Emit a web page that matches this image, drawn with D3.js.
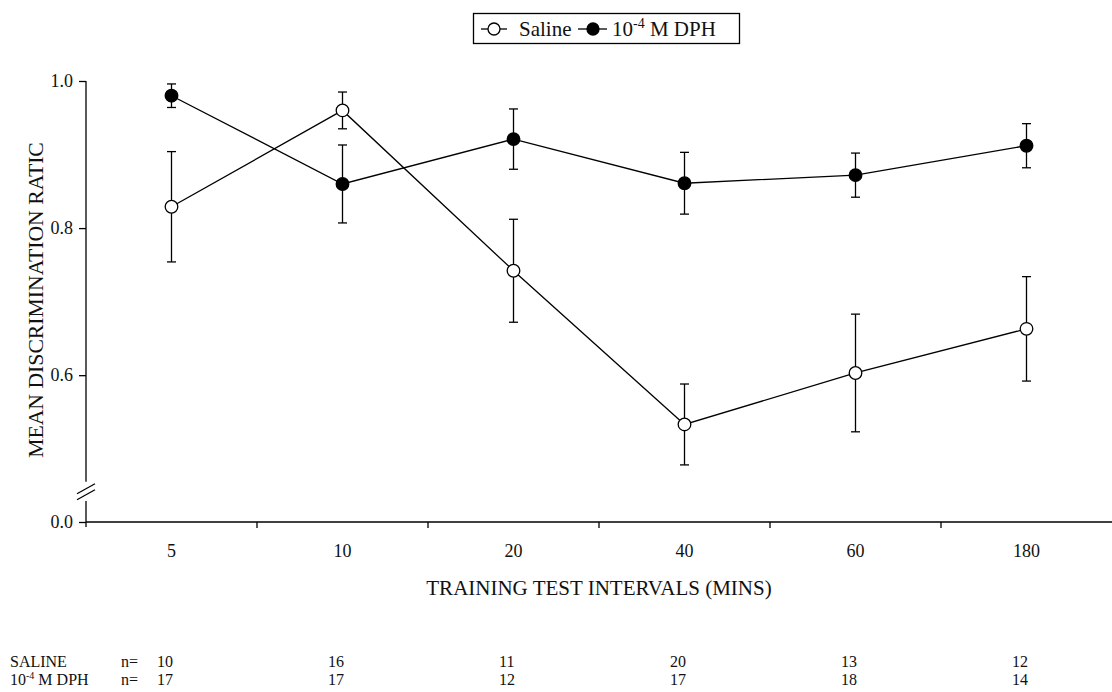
<!DOCTYPE html>
<html>
<head>
<meta charset="utf-8">
<script src="https://cdn.jsdelivr.net/npm/d3@7"></script>
<style>
  html, body { margin: 0; padding: 0; background: #fff; }
  svg { display: block; font-family: "Liberation Serif", "Times New Roman", serif; }
</style>
</head>
<body>
<svg id="chart" width="1112" height="692"></svg>
<script>
// ---- data ----
const intervals = ["5", "10", "20", "40", "60", "180"];
const salineMean = [0.829, 0.960, 0.742, 0.533, 0.603, 0.663];
const salineErr  = [0.075, 0.025, 0.070, 0.055, 0.080, 0.071];
const dphMean    = [0.980, 0.860, 0.921, 0.861, 0.872, 0.912];
const dphErr     = [0.016, 0.053, 0.041, 0.042, 0.030, 0.030];
const salineN    = [10, 16, 11, 20, 13, 12];
const dphN       = [17, 17, 12, 17, 18, 14];
const yTickValues = [0.0, 0.6, 0.8, 1.0];

(function () {
// ---- layout ----
const svg = d3.select("#chart");
const pLeft = 86, pRight = 1112, pTop = 81, pBottom = 522;

const x = d3.scaleBand().domain(intervals).range([pLeft, pRight]).padding(0);
// broken y axis: 0..0.45 compressed into a short stub below the break
const y = d3.scaleLinear().domain([0, 0.45, 1.0]).range([pBottom, 485.5, pTop]);

const cx = d => x(d) + x.bandwidth() / 2;

// ---- y axis ----
const yAxis = d3.axisLeft(y).tickValues(yTickValues).tickSize(7).tickPadding(6)
  .tickFormat(d3.format(".1f"));
const gy = svg.append("g").attr("transform", `translate(${pLeft},0)`).call(yAxis);
gy.select(".domain").remove();
gy.selectAll(".tick line").attr("stroke", "#000").attr("stroke-width", 1.3);
gy.selectAll(".tick text").attr("font-size", 18).attr("fill", "#111")
  .attr("font-family", "Liberation Serif");

const axisG = svg.append("g").attr("stroke", "#000").attr("stroke-width", 1.3).attr("fill", "none");
axisG.append("line").attr("x1", pLeft).attr("x2", pLeft).attr("y1", y(1.0)).attr("y2", y(0.455));
axisG.append("line").attr("x1", pLeft).attr("x2", pLeft).attr("y1", y(0.26)).attr("y2", pBottom + 5);
// break marks
const bMid = y(0.36);
axisG.append("line").attr("x1", pLeft - 9).attr("y1", bMid + 1).attr("x2", pLeft + 9).attr("y2", bMid - 9);
axisG.append("line").attr("x1", pLeft - 9).attr("y1", bMid + 7).attr("x2", pLeft + 9).attr("y2", bMid - 3);

// ---- x axis ----
axisG.append("line").attr("x1", pLeft).attr("x2", pRight).attr("y1", pBottom).attr("y2", pBottom);
const bounds = intervals.slice(1).map(d => x(d));
axisG.selectAll("line.xt").data(bounds).enter().append("line").attr("class", "xt")
  .attr("x1", d => d).attr("x2", d => d).attr("y1", pBottom).attr("y2", pBottom + 6);

svg.append("g").selectAll("text").data(intervals).enter().append("text")
  .attr("x", d => cx(d)).attr("y", 557).attr("text-anchor", "middle")
  .attr("font-size", 18).attr("fill", "#111").text(d => d);

// ---- axis titles ----
svg.append("text").attr("x", (pLeft + pRight) / 2).attr("y", 595).attr("text-anchor", "middle")
  .attr("font-size", 21).attr("fill", "#111").text("TRAINING TEST INTERVALS (MINS)");
svg.append("text").attr("transform", "translate(43,300) rotate(-90)").attr("text-anchor", "middle")
  .attr("font-size", 21.7).attr("fill", "#111").text("MEAN DISCRIMINATION RATIC");

// ---- series ----
const series = [
  { name: "saline", mean: salineMean, err: salineErr, fill: "#fff" },
  { name: "dph", mean: dphMean, err: dphErr, fill: "#000" }
];
const line = d3.line().x(d => cx(d.k)).y(d => y(d.v));
series.forEach(s => {
  const pts = intervals.map((k, i) => ({ k, v: s.mean[i], e: s.err[i] }));
  svg.append("path").datum(pts).attr("d", line).attr("fill", "none")
    .attr("stroke", "#000").attr("stroke-width", 1.3);
  const eg = svg.append("g").attr("stroke", "#000").attr("stroke-width", 1.3);
  pts.forEach(p => {
    const xx = cx(p.k);
    eg.append("line").attr("x1", xx).attr("x2", xx).attr("y1", y(p.v + p.e)).attr("y2", y(p.v - p.e));
    eg.append("line").attr("x1", xx - 4.5).attr("x2", xx + 4.5).attr("y1", y(p.v + p.e)).attr("y2", y(p.v + p.e));
    eg.append("line").attr("x1", xx - 4.5).attr("x2", xx + 4.5).attr("y1", y(p.v - p.e)).attr("y2", y(p.v - p.e));
  });
});
series.forEach(s => {
  svg.append("g").selectAll("circle").data(intervals).enter().append("circle")
    .attr("cx", d => cx(d)).attr("cy", (d, i) => y(s.mean[i])).attr("r", 6.3)
    .attr("fill", s.fill).attr("stroke", "#000").attr("stroke-width", 1.3);
});

// ---- legend ----
const lg = svg.append("g");
lg.append("rect").attr("x", 473.5).attr("y", 13.5).attr("width", 266).attr("height", 30)
  .attr("fill", "#fff").attr("stroke", "#000").attr("stroke-width", 1.3);
const ly = 29;
lg.append("line").attr("x1", 481).attr("x2", 507).attr("y1", ly).attr("y2", ly).attr("stroke", "#000").attr("stroke-width", 1.3);
lg.append("circle").attr("cx", 494).attr("cy", ly).attr("r", 6).attr("fill", "#fff").attr("stroke", "#000").attr("stroke-width", 1.3);
lg.append("text").attr("x", 519).attr("y", 36).attr("font-size", 21).attr("fill", "#111").text("Saline");
lg.append("line").attr("x1", 578).attr("x2", 607).attr("y1", ly).attr("y2", ly).attr("stroke", "#000").attr("stroke-width", 1.3);
lg.append("circle").attr("cx", 593).attr("cy", ly).attr("r", 6).attr("fill", "#000").attr("stroke", "#000").attr("stroke-width", 1.3);
const lt = lg.append("text").attr("x", 612).attr("y", 36).attr("font-size", 21).attr("fill", "#111");
lt.append("tspan").text("10");
lt.append("tspan").attr("dy", -8).attr("font-size", 14).text("-4");
lt.append("tspan").attr("dy", 8).text(" M DPH");

// ---- n table ----
const tg = svg.append("g").attr("font-size", 16).attr("fill", "#111");
const rows = [
  { label: "SALINE", n: salineN, yb: 667 },
  { label: null, n: dphN, yb: 685 }
];
rows.forEach(r => {
  if (r.label) {
    tg.append("text").attr("x", 10).attr("y", r.yb).text(r.label);
  } else {
    const t = tg.append("text").attr("x", 10).attr("y", r.yb);
    t.append("tspan").text("10");
    t.append("tspan").attr("dy", -6).attr("font-size", 10).text("-4");
    t.append("tspan").attr("dy", 6).text(" M DPH");
  }
  tg.append("text").attr("x", 121).attr("y", r.yb).text("n=");
  tg.selectAll(null).data(intervals).enter().append("text")
    .attr("x", d => cx(d) - 14.5).attr("y", r.yb).text((d, i) => r.n[i]);
});
})();
</script>
</body>
</html>
